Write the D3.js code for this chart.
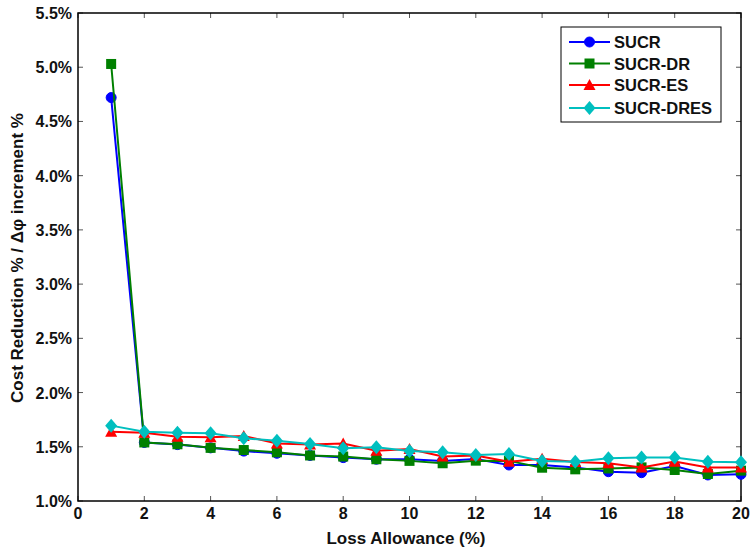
<!DOCTYPE html>
<html><head><meta charset="utf-8">
<script src="https://cdn.jsdelivr.net/npm/d3@7"></script>
<style>body{margin:0;background:#fff;}svg{display:block;}text{font-family:"Liberation Sans",Arial,sans-serif;font-weight:bold;fill:#111;}</style>
</head><body><svg id="c" width="754" height="550"></svg>
<script>
const xValues = [1,2,3,4,5,6,7,8,9,10,11,12,13,14,15,16,17,18,19,20];
const seriesNames = ["SUCR","SUCR-DR","SUCR-ES","SUCR-DRES"];
const sucr = [4.72,1.54,1.52,1.49,1.46,1.44,1.42,1.40,1.385,1.385,1.37,1.387,1.332,1.332,1.31,1.27,1.261,1.323,1.24,1.246];
const sucrDR = [5.03,1.54,1.523,1.49,1.47,1.449,1.42,1.41,1.385,1.37,1.348,1.372,1.37,1.307,1.292,1.30,1.31,1.286,1.249,1.28];
const sucrES = [1.639,1.63,1.593,1.588,1.60,1.53,1.52,1.53,1.464,1.48,1.41,1.42,1.363,1.39,1.36,1.348,1.31,1.363,1.31,1.31];
const sucrDRES = [1.695,1.639,1.63,1.624,1.578,1.556,1.526,1.486,1.495,1.46,1.449,1.424,1.434,1.369,1.363,1.394,1.40,1.40,1.363,1.357];
const xTicks = [0,2,4,6,8,10,12,14,16,18,20];
const yTicks = [1.0,1.5,2.0,2.5,3.0,3.5,4.0,4.5,5.0,5.5];
const colors = ["#0000ff","#008000","#ff0000","#00bfbf"];
const markers = ["circle","square","triangle","diamond"];

const svg = d3.select("#c");
const L=78,R=741,T=13,B=501;
const x = d3.scaleLinear().domain([0,20]).range([L,R]);
const y = d3.scaleLinear().domain([1.0,5.5]).range([B,T]);

const tickLen=5;
const g = svg.append("g");
xTicks.forEach(t=>{
  g.append("line").attr("x1",x(t)).attr("x2",x(t)).attr("y1",B).attr("y2",B-tickLen).attr("stroke","#555");
  g.append("line").attr("x1",x(t)).attr("x2",x(t)).attr("y1",T).attr("y2",T+tickLen).attr("stroke","#555");
  g.append("text").attr("x",x(t)).attr("y",B+18).attr("text-anchor","middle").attr("font-size",16).text(t);
});
yTicks.forEach(t=>{
  g.append("line").attr("x1",L).attr("x2",L+tickLen).attr("y1",y(t)).attr("y2",y(t)).attr("stroke","#555");
  g.append("line").attr("x1",R).attr("x2",R-tickLen).attr("y1",y(t)).attr("y2",y(t)).attr("stroke","#555");
  g.append("text").attr("x",L-6).attr("y",y(t)+6).attr("text-anchor","end").attr("font-size",16).text(t.toFixed(1)+"%");
});
g.append("rect").attr("x",L).attr("y",T).attr("width",R-L).attr("height",B-T).attr("fill","none").attr("stroke","#000").attr("stroke-width",1.5);

svg.append("text").attr("x",406).attr("y",544).attr("text-anchor","middle").attr("font-size",17).text("Loss Allowance (%)");
svg.append("text").attr("transform",`translate(23,258) rotate(-90)`).attr("text-anchor","middle").attr("font-size",17).text("Cost Reduction % / Δφ increment %");

function marker(sel,type,cx,cy,col){
  if(type==="circle") sel.append("circle").attr("cx",cx).attr("cy",cy).attr("r",5).attr("fill",col).attr("stroke",col);
  else if(type==="square") sel.append("rect").attr("x",cx-5).attr("y",cy-5).attr("width",10).attr("height",10).attr("fill",col);
  else if(type==="triangle") sel.append("path").attr("d",`M${cx},${cy-6}L${cx+6},${cy+5}L${cx-6},${cy+5}Z`).attr("fill",col);
  else sel.append("path").attr("d",`M${cx},${cy-7}L${cx+6},${cy}L${cx},${cy+7}L${cx-6},${cy}Z`).attr("fill",col);
}

const all=[sucr,sucrDR,sucrES,sucrDRES];
const line=d3.line().x((d,i)=>x(xValues[i])).y(d=>y(d));
all.forEach((s,k)=>{
  const sg=svg.append("g");
  sg.append("path").datum(s).attr("d",line).attr("fill","none").attr("stroke",colors[k]).attr("stroke-width",2);
  s.forEach((v,i)=>marker(sg,markers[k],x(xValues[i]),y(v),colors[k]));
});

const lg=svg.append("g");
lg.append("rect").attr("x",561).attr("y",27).attr("width",160).attr("height",95).attr("fill","#fff").attr("stroke","#000");
const ly=[42,63.5,85,108];
seriesNames.forEach((n,k)=>{
  lg.append("line").attr("x1",569).attr("x2",610).attr("y1",ly[k]).attr("y2",ly[k]).attr("stroke",colors[k]).attr("stroke-width",2);
  marker(lg,markers[k],589.5,ly[k],colors[k]);
  lg.append("text").attr("x",614).attr("y",ly[k]+6).attr("font-size",16.5).text(n);
});
</script></body></html>
